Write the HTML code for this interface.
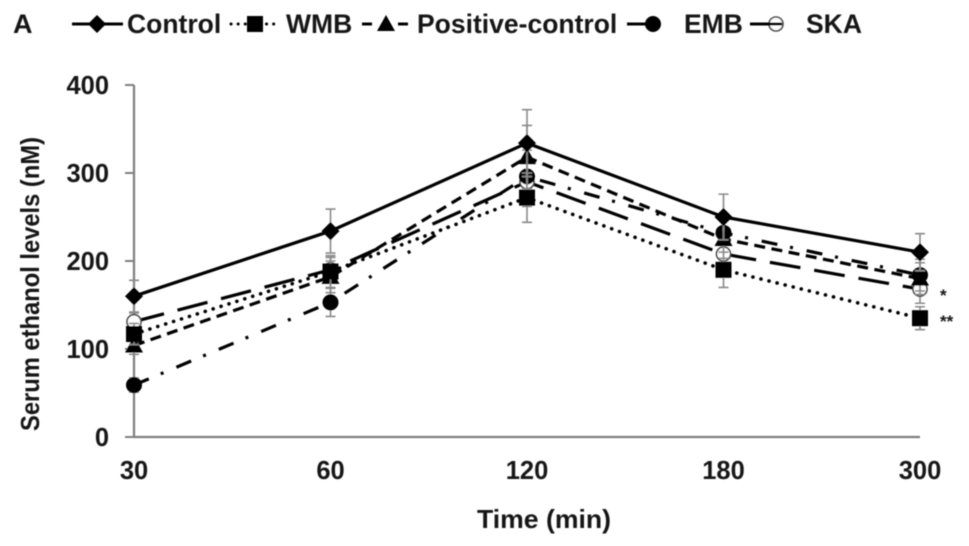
<!DOCTYPE html>
<html>
<head>
<meta charset="utf-8">
<title>Serum ethanol levels</title>
<style>
html,body{margin:0;padding:0;background:#fff;width:969px;height:546px;overflow:hidden}
svg{display:block;font-family:"Liberation Sans",Arial,sans-serif;font-weight:bold;fill:#141414}
</style>
</head>
<body>
<svg id="chart" width="969" height="546" viewBox="0 0 969 546" xmlns="http://www.w3.org/2000/svg">
<defs><filter id="soft" x="-5%" y="-5%" width="110%" height="110%"><feGaussianBlur stdDeviation="0.55"/></filter></defs>
<rect width="969" height="546" fill="#fff"/>
<g id="root" filter="url(#soft)">
<text x="13" y="33" font-size="27">A</text>
<text transform="translate(39,284) rotate(-90)" text-anchor="middle" font-size="26" textLength="294" lengthAdjust="spacingAndGlyphs">Serum ethanol levels (nM)</text>
<text x="544" y="528" text-anchor="middle" font-size="26" textLength="134" lengthAdjust="spacingAndGlyphs">Time (min)</text>
<text x="940" y="301" font-size="17">*</text>
<text x="940" y="327" font-size="17">**</text>
</g>
</svg>
<script>
const categories = ['30', '60', '120', '180', '300'];
const yTicks = [0, 100, 200, 300, 400];
const seriesNames = ['Control', 'WMB', 'Positive-control', 'EMB', 'SKA'];
const control = [160, 234, 334, 250, 210];
const wmb = [117, 188, 272, 190, 135];
const positiveControl = [104, 182, 318, 225, 180];
const emb = [59, 153, 296, 232, 184];
const ska = [131, 190, 290, 208, 168];
const controlErr = [18, 25, 38, 26, 21];
const wmbErr = [12, 18, 28, 20, 13];
const positiveErr = [10, 18, 36, 22, 18];
const embErr = [8, 16, 30, 22, 18];
const skaErr = [10, 14, 28, 20, 16];

const NS = 'http://www.w3.org/2000/svg';
const root = document.getElementById('root');
const x0 = 134, dx = 196.5, yBase = 437, pxPerUnit = 0.88;
function xAt(i) { return x0 + i * dx; }
function yAt(v) { return yBase - v * pxPerUnit; }
function mk(tag, attrs, parent) {
  const el = document.createElementNS(NS, tag);
  for (const k in attrs) el.setAttribute(k, attrs[k]);
  (parent || root).appendChild(el);
  return el;
}

/* axes */
const axisX = mk('line', {x1: x0, y1: yBase, x2: xAt(4), y2: yBase, stroke: '#7f7f7f', 'stroke-width': 2.2});


const axisY = mk('line', {x1: x0, y1: yAt(400), x2: x0, y2: yBase, stroke: '#7f7f7f', 'stroke-width': 2.2});



yTicks.forEach(function (t) {
  const tick = mk('line', {x1: x0 - 9, y1: yAt(t), x2: x0, y2: yAt(t), stroke: '#7f7f7f', 'stroke-width': 2});
  
  
  const lab = mk('text', {x: 109, y: yAt(t) + 9, 'text-anchor': 'end', 'font-size': 25.5});
  lab.textContent = t;
  
  
});
categories.forEach(function (c, i) {
  const lab = mk('text', {x: xAt(i), y: 479, 'text-anchor': 'middle', 'font-size': 25.5});
  lab.textContent = c;
  
  
});

/* markers */
function marker(kind, x, y, parent) {
  if (kind === 'diamond') return mk('path', {d: `M${x} ${y-9}L${x+9} ${y}L${x} ${y+9}L${x-9} ${y}Z`, fill: '#000'}, parent);
  if (kind === 'square') return mk('rect', {x: x-8, y: y-8, width: 16, height: 16, fill: '#000'}, parent);
  if (kind === 'triangle') return mk('path', {d: `M${x} ${y-9}L${x+9} ${y+7}L${x-9} ${y+7}Z`, fill: '#000'}, parent);
  if (kind === 'circle') return mk('circle', {cx: x, cy: y, r: 8, fill: '#000'}, parent);
  return mk('circle', {cx: x, cy: y, r: 7, fill: '#fff', stroke: '#444', 'stroke-width': 1.6}, parent);
}

const styles = {
  'Control': {vals: control, errs: controlErr, dash: '', width: 3.2, kind: 'diamond'},
  'WMB': {vals: wmb, errs: wmbErr, dash: '0.1 8.2', width: 3.6, kind: 'square', cap: 'round'},
  'Positive-control': {vals: positiveControl, errs: positiveErr, dash: '11 6.5', width: 3.2, kind: 'triangle'},
  'EMB': {vals: emb, errs: embErr, dash: '16 13 3 14', width: 3.2, kind: 'circle'},
  'SKA': {vals: ska, errs: skaErr, dash: '31 14', width: 3.2, kind: 'open'}
};
const drawOrder = ['SKA', 'EMB', 'Positive-control', 'WMB', 'Control'];

drawOrder.forEach(function (name) {
  const s = styles[name];
  const g = mk('g', {});
  
  
  s.vals.forEach(function (v, i) {
    const x = xAt(i), top = yAt(v + s.errs[i]), bot = yAt(v - s.errs[i]);
    mk('path', {d: `M${x} ${top}V${bot}M${x-5} ${top}H${x+5}M${x-5} ${bot}H${x+5}`, stroke: '#8a8a8a', 'stroke-width': 1.6, fill: 'none'}, g);
  });
  const pts = s.vals.map(function (v, i) { return xAt(i) + ',' + yAt(v); }).join(' ');
  const attrs = {points: pts, fill: 'none', stroke: '#000', 'stroke-width': s.width};
  if (s.dash) attrs['stroke-dasharray'] = s.dash;
  if (s.cap) attrs['stroke-linecap'] = s.cap;
  mk('polyline', attrs, g);
  s.vals.forEach(function (v, i) { marker(s.kind, xAt(i), yAt(v), g); });
});

/* legend */
const legendY = 24;
const legendItems = [
  {name: 'Control', x1: 72, x2: 123, mx: 97, tx: 127, dash: '', cap: '', over: false},
  {name: 'WMB', x1: 231, x2: 278, mx: 255, tx: 286, dash: '0.1 7', cap: 'round', over: false},
  {name: 'Positive-control', x1: 362, x2: 408, mx: 386, tx: 417, dash: '10 26', cap: '', over: false},
  {name: 'EMB', x1: 627, x2: 660, mx: 653, tx: 684, dash: '', cap: '', over: false},
  {name: 'SKA', x1: 750, x2: 782, mx: 776, tx: 806, dash: '', cap: '', over: true}
];
legendItems.forEach(function (it) {
  const g = mk('g', {});
  
  
  if (!it.over) {
    const a = {x1: it.x1, y1: legendY, x2: it.x2, y2: legendY, stroke: '#000', 'stroke-width': 3};
    if (it.dash) a['stroke-dasharray'] = it.dash;
    if (it.cap) a['stroke-linecap'] = it.cap;
    mk('line', a, g);
  }
  marker(styles[it.name].kind, it.mx, legendY, g);
  if (it.over) {
    mk('line', {x1: it.x1, y1: legendY, x2: it.x2, y2: legendY, stroke: '#000', 'stroke-width': 3}, g);
  }
  const t = mk('text', {x: it.tx, y: 33, 'font-size': 26.5}, g);
  t.textContent = it.name;
});
</script>
</body>
</html>
